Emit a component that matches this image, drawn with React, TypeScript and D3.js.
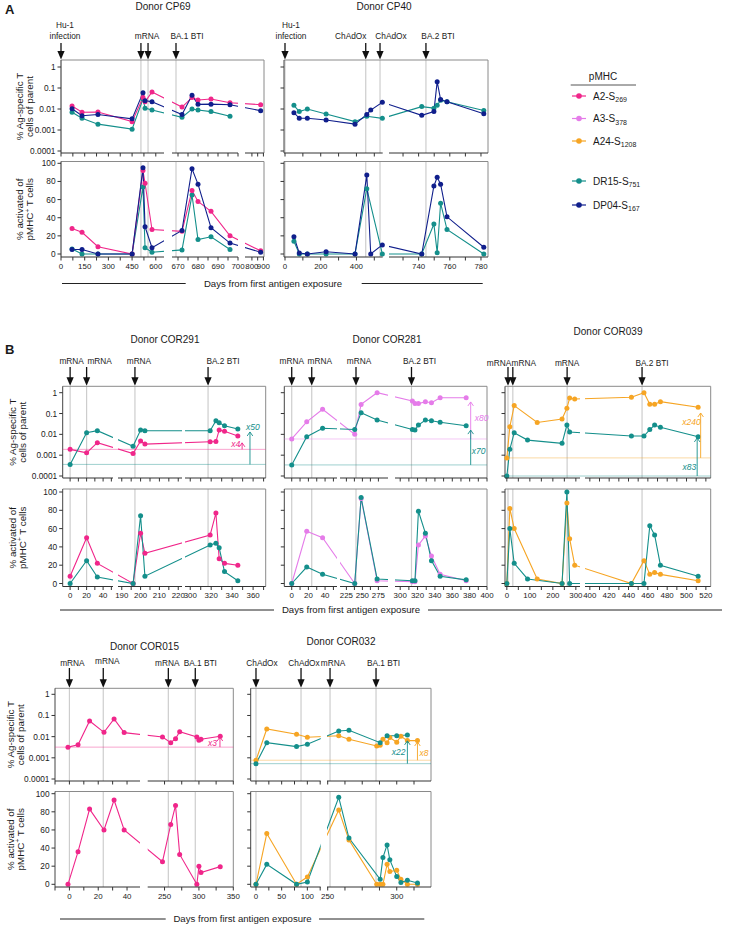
import React, { useRef, useEffect } from "react";
import * as d3 from "d3";

const FONT = "'Liberation Sans', Arial, Helvetica, sans-serif";

const COL = {
  A2: "#f0268a",
  A3: "#e57ce9",
  A24: "#f6a524",
  DR15: "#148f8b",
  DP04: "#101f8c",
};

// ---------- Donor CP69 ----------
const cp69Domains = [[0, 652], [667, 700], [740, 905]];
const cp69Ticks = [[0, 150, 300, 450, 600], [670, 680, 690, 700], [800, 900]];
const cp69Minor = [[75, 225, 375, 525], [675, 685, 695], [850]];
const cp69Events = [0, 506, 551, 669];
const cp69Days = [70, 133, 234, 450, 519, 532, 576, 672, 677, 680, 686.5, 696, 876];
const cp69FreqA2 = [0.0139, 0.007, 0.0072, 0.0025, 0.035, 0.022, 0.065, 0.0124, 0.035, 0.027, 0.03, 0.02, 0.016];
const cp69ActA2 = [28, 24, 8, 0, 92, 78, 27, 25, 70, 58, 47, 20, 3.5];
const cp69FreqDP04 = [0.0103, 0.0048, 0.0055, 0.0034, 0.06, 0.025, 0.022, 0.0055, 0.045, 0.0167, 0.017, 0.016, 0.0083];
const cp69ActDP04 = [5, 5, 0, 0, 95, 30, 7, 26, 94, 77, 29, 12, 2];
const cp69FreqDR15 = [0.007, 0.0036, 0.0019, 0.0011, 0.03, 0.011, 0.009, 0.004, 0.01, 0.009, 0.0075, 0.0045, NaN];
const cp69ActDR15 = [5.5, 0, 0, 0, 74, 7, 2, 4.5, 65, 16, 19, 5, NaN];

// ---------- Donor CP40 ----------
const cp40Domains = [[-5.6, 547], [721, 784.5]];
const cp40Ticks = [[0, 200, 400], [740, 760, 780]];
const cp40Minor = [[100, 300, 500], [730, 750, 770]];
const cp40Events = [0, 452, 532, 744.7];
const cp40Days = [50, 80, 125, 230, 392, 458, 480, 545, 742, 749.8, 751.9, 754.1, 758.2, 781.8];
const cp40FreqDR15 = [0.015, 0.0075, 0.01, 0.0058, 0.0025, 0.0045, NaN, 0.0036, 0.013, 0.011, 0.015, 0.026, 0.022, 0.0085];
const cp40ActDR15 = [14, 0, 0, 0, 0, 72, NaN, 0, 0, 33, 1.5, 56, 27, 0];
const cp40FreqDP04 = [0.0067, 0.0036, 0.0036, 0.003, 0.0019, 0.0055, 0.0089, 0.021, 0.005, 0.0075, 0.2, 0.028, 0.022, 0.006];
const cp40ActDP04 = [19, 1, 0, 2.5, 0, 87, 0, 10, 0, 75, 84.5, 77, 41, 7.4];

// ---------- Donor COR291 ----------
const cor291Domains = [[-9, 52], [188, 222], [295, 372]];
const cor291Ticks = [[0, 20, 40], [190, 200, 210, 220], [300, 320, 340, 360]];
const cor291Minor = [[10, 30, 50], [195, 205, 215], [310, 330, 350, 370]];
const cor291Events = [0, 20, 197, 317];
const cor291Days = [0, 20, 33, 196, 200, 202.3, 319, 324.5, 327.6, 332.7, 345.4];
const cor291FreqA2 = [0.0019, 0.0013, 0.004, 0.0012, 0.0048, 0.0034, 0.0044, 0.0045, 0.016, 0.014, 0.0083];
const cor291ActA2 = [8, 50, 22, 0, 55, 33, 53, 77, 27, 22, 20];
const cor291FreqDR15 = [0.00036, 0.012, 0.015, 0.0027, 0.016, 0.015, 0.015, 0.045, 0.036, 0.026, 0.018];
const cor291ActDR15 = [0, 25, 7, 0, 74, 8, 42, 44, 39, 13, 3];

// ---------- Donor COR281 ----------
const cor281Domains = [[-8.9, 54.3], [215, 290], [294, 400]];
const cor281Ticks = [[0, 20, 40], [225, 250, 275], [300, 320, 340, 360, 380, 400]];
const cor281Minor = [[10, 30, 50], [237.5, 262.5], [310, 330, 350, 370, 390]];
const cor281Events = [0, 24, 240, 313];
const cor281Days = [0, 18, 37, 238, 248, 273, 314, 317, 321, 329, 336, 346, 376];
const cor281FreqA3 = [0.006, 0.04, 0.16, 0.01, 0.275, 1.35, 0.4, 0.3, 0.3, 0.37, 0.33, 0.57, 0.57];
const cor281ActA3 = [0, 57, 50, 0, 93, 3, 2, 2, 42, 52, 30, 10, 3];
const cor281FreqDR15 = [0.00034, 0.0077, 0.0195, 0.017, 0.11, 0.049, 0.017, 0.016, 0.028, 0.049, 0.045, 0.038, 0.026];
const cor281ActDR15 = [0, 18, 10, 0, 94, 5, 3, 3, 79, 55, 25, 8, 4];

// ---------- Donor COR039 ----------
const cor039Domains = [[-8, 318], [395, 525]];
const cor039Ticks = [[0, 100, 200, 300], [400, 420, 440, 460, 480, 500, 520]];
const cor039Minor = [[50, 150, 250], [410, 430, 450, 470, 490, 510]];
const cor039Events = [5, 26, 262, 454];
const cor039Days = [0, 13, 32, 90, 132, 240, 261, 273, 295, 443, 456, 462, 467, 473, 512];
const cor039FreqA24 = [0.00074, 0.023, 0.24, NaN, 0.037, 0.055, 0.18, 0.55, 0.5, 0.6, 1.05, 0.28, 0.28, 0.37, 0.2];
const cor039ActA24 = [0, 82, 60, NaN, 5, 0, 88, 49, 20, 0, 25, 10, 12, 10, 3];
const cor039FreqDR15 = [0.0001, 0.0019, 0.012, 0.0053, NaN, 0.0037, 0.028, 0.013, NaN, 0.0083, 0.0083, 0.017, 0.028, 0.022, 0.0077];
const cor039ActDR15 = [0, 60, 22, 5, NaN, 0, 100, 0, NaN, 0, 0, 63, 53, 20, 8];

// ---------- Donor COR015 ----------
const cor015Domains = [[-10, 49], [225.5, 350]];
const cor015Ticks = [[0, 20, 40], [250, 300, 350]];
const cor015Minor = [[-10, 10, 30], [275, 325]];
const cor015Events = [0, 23.5, 255.5, 294.7];
const cor015Days = [-1, 6, 14, 24, 31, 38, 247, 259, 266, 272, 297, 300, 303, 331];
const cor015FreqA2 = [0.0032, 0.0041, 0.055, 0.016, 0.068, 0.0155, 0.0096, 0.0052, 0.008, 0.017, 0.0096, 0.0068, 0.0075, 0.0105];
const cor015ActA2 = [0, 36, 83, 60, 93, 60, 25, 66, 87, 33, 0, 20, 13, 19.5];

// ---------- Donor COR032 ----------
const cor032Domains = [[-10.3, 126], [249.5, 324.8]];
const cor032Ticks = [[0, 50, 100], [250, 300]];
const cor032Minor = [[25, 75, 125], [262.5, 275, 287.5, 312.5]];
const cor032Events = [0, 87.7, 251.7, 285];
const cor032Days = [0, 21, 79, 100, 258, 265.4, 285.5, 288, 290, 293, 295, 300, 303, 307.7, 315];
const cor032FreqA24 = [0.00077, 0.023, 0.013, 0.0093, 0.011, 0.0075, 0.0036, 0.0039, 0.0075, 0.0052, 0.009, 0.0055, 0.0104, 0.0065, 0.0065];
const cor032ActA24 = [0, 56, 0, 8, 82, 49, 0, 0, 0, 22, 14, 15.5, 5.5, 0, 0];
const cor032FreqDR15 = [0.00053, 0.0052, 0.0034, 0.0044, 0.0185, 0.02, NaN, 0.0052, NaN, 0.011, NaN, 0.011, NaN, 0.012, NaN];
const cor032ActDR15 = [0, 22, 0, 2.5, 96, 51, NaN, 5.5, 29.5, 43.5, 27, 8.5, 2, 4.5, 1.5];

const logTicks = [1, 0.1, 0.01, 0.001, 0.0001];
const logTickLabels = ["1", "0.1", "0.01", "0.001", "0.0001"];
const linTicks = [0, 20, 40, 60, 80, 100];

const legendNames = [
  ["A2-S", "269"],
  ["A3-S", "378"],
  ["A24-S", "1208"],
  ["DR15-S", "751"],
  ["DP04-S", "167"],
];
const legendColors = [COL.A2, COL.A3, COL.A24, COL.DR15, COL.DP04];

// layout of the three rows of donors
const ROWS = {
  A: { lab: 39, arrowTop: 43, frameTop: 60, log: [151, 67], topAxis: 153, botTop: 161.5, lin: [254, 163.3], botAxis: 257, tickLab: 268.5, yt: [23, 33] },
  B: { lab: 364, arrowTop: 367, frameTop: 386.3, log: [476, 392.7], topAxis: 478, botTop: 489, lin: [583.5, 492], botAxis: 586.5, tickLab: 597.5, yt: [16, 25.5] },
  C: { lab: 665.5, arrowTop: 668, frameTop: 688.3, log: [779, 694.3], topAxis: 781, botTop: 791.5, lin: [884.3, 793.7], botAxis: 887, tickLab: 898.5, yt: [14, 23.5] },
};

const mk = (color, days, freq, act) => ({ color, days, freq, act });

const DONORS = [
  {
    id: "cp69", row: "A", title: "Donor CP69", titleX: 163, titleY: 10, yLabels: true,
    domains: cp69Domains, ticks: cp69Ticks, minor: cp69Minor, events: cp69Events,
    segPx: [[61, 164], [172, 238], [245, 264]], right: 264,
    labels: [{ text: "Hu-1\ninfection", ev: 0, dx: 4 }, { text: "mRNA", ev: 2, dx: -1 }, { text: "BA.1 BTI", ev: 3, dx: 11 }],
    series: [mk(COL.DR15, cp69Days, cp69FreqDR15, cp69ActDR15), mk(COL.A2, cp69Days, cp69FreqA2, cp69ActA2), mk(COL.DP04, cp69Days, cp69FreqDP04, cp69ActDP04)],
    folds: [],
  },
  {
    id: "cp40", row: "A", title: "Donor CP40", titleX: 384, titleY: 10, yLabels: false,
    domains: cp40Domains, ticks: cp40Ticks, minor: cp40Minor, events: cp40Events,
    segPx: [[284, 382.7], [389, 488]], right: 488,
    labels: [{ text: "Hu-1\ninfection", ev: 0, dx: 6 }, { text: "ChAdOx", ev: 1, dx: -15 }, { text: "ChAdOx", ev: 2, dx: 11 }, { text: "BA.2 BTI", ev: 3, dx: 12 }],
    series: [mk(COL.DR15, cp40Days, cp40FreqDR15, cp40ActDR15), mk(COL.DP04, cp40Days, cp40FreqDP04, cp40ActDP04)],
    folds: [],
  },
  {
    id: "cor291", row: "B", title: "Donor COR291", titleX: 165, titleY: 342.5, yLabels: true,
    domains: cor291Domains, ticks: cor291Ticks, minor: cor291Minor, events: cor291Events,
    segPx: [[62.7, 113], [118, 182], [185, 265.7]], right: 265.7,
    labels: [{ text: "mRNA", ev: 0, dx: 1.5 }, { text: "mRNA", ev: 1, dx: 13 }, { text: "mRNA", ev: 2, dx: 4 }, { text: "BA.2 BTI", ev: 3, dx: 15 }],
    series: [mk(COL.A2, cor291Days, cor291FreqA2, cor291ActA2), mk(COL.DR15, cor291Days, cor291FreqDR15, cor291ActDR15)],
    folds: [
      { color: COL.A2, lod: 0.0019, day: 349.5, top: 0.0039, text: "x4", anchor: "end", dx: -2, at: 0.0025 },
      { color: COL.DR15, lod: 0.00036, day: 357, top: 0.013, text: "x50", anchor: "start", dx: -4, at: 0.017 },
    ],
  },
  {
    id: "cor281", row: "B", title: "Donor COR281", titleX: 387, titleY: 342.5, yLabels: false,
    domains: cor281Domains, ticks: cor281Ticks, minor: cor281Minor, events: cor281Events,
    segPx: [[284.3, 337], [340, 388], [395, 487]], right: 487,
    labels: [{ text: "mRNA", ev: 0, dx: 0 }, { text: "mRNA", ev: 1, dx: 8 }, { text: "mRNA", ev: 2, dx: 3 }, { text: "BA.2 BTI", ev: 3, dx: 8 }],
    series: [mk(COL.A3, cor281Days, cor281FreqA3, cor281ActA3), mk(COL.DR15, cor281Days, cor281FreqDR15, cor281ActDR15)],
    folds: [
      { color: COL.A3, lod: 0.006, day: 381.2, top: 0.36, text: "x80", anchor: "start", dx: 4, at: 0.044 },
      { color: COL.DR15, lod: 0.00034, day: 381.2, top: 0.016, text: "x70", anchor: "start", dx: 1, at: 0.00114 },
    ],
  },
  {
    id: "cor039", row: "B", title: "Donor COR039", titleX: 608, titleY: 335, yLabels: false, labDy: 2,
    domains: cor039Domains, ticks: cor039Ticks, minor: cor039Minor, events: cor039Events,
    segPx: [[505, 580], [585, 710.7]], right: 710.7,
    labels: [{ text: "mRNA", ev: 0, dx: -9 }, { text: "mRNA", ev: 1, dx: 11 }, { text: "mRNA", ev: 2, dx: 0 }, { text: "BA.2 BTI", ev: 3, dx: 10 }],
    series: [mk(COL.A24, cor039Days, cor039FreqA24, cor039ActA24), mk(COL.DR15, cor039Days, cor039FreqDR15, cor039ActDR15)],
    folds: [
      { color: COL.A24, lod: 0.00074, day: 514.6, top: 0.106, text: "x240", anchor: "end", dx: 0, at: 0.028 },
      { color: COL.DR15, lod: 0.0001, day: 511, top: 0.0067, text: "x83", anchor: "end", dx: -1, at: 0.000195 },
    ],
  },
  {
    id: "cor015", row: "C", title: "Donor COR015", titleX: 144.5, titleY: 649.5, yLabels: true,
    domains: cor015Domains, ticks: cor015Ticks, minor: cor015Minor, events: cor015Events,
    segPx: [[55, 140], [147.7, 233.3]], right: 233.3,
    labels: [{ text: "mRNA", ev: 0, dx: 3 }, { text: "mRNA", ev: 1, dx: 4, dy: -1.6 }, { text: "mRNA", ev: 2, dx: -1 }, { text: "BA.1 BTI", ev: 3, dx: 5 }],
    series: [mk(COL.A2, cor015Days, cor015FreqA2, cor015ActA2)],
    folds: [{ color: COL.A2, lod: 0.0032, day: 330.6, top: 0.0096, text: "x3", anchor: "end", dx: -3, at: 0.0037 }],
  },
  {
    id: "cor032", row: "C", title: "Donor COR032", titleX: 341, titleY: 644.5, yLabels: false,
    domains: cor032Domains, ticks: cor032Ticks, minor: cor032Minor, events: cor032Events,
    segPx: [[250.7, 320.7], [327, 431]], right: 431,
    labels: [{ text: "ChAdOx", ev: 0, dx: 6 }, { text: "ChAdOx", ev: 1, dx: 3 }, { text: "mRNA", ev: 2, dx: 3 }, { text: "BA.1 BTI", ev: 3, dx: 7.5 }],
    series: [mk(COL.A24, cor032Days, cor032FreqA24, cor032ActA24), mk(COL.DR15, cor032Days, cor032FreqDR15, cor032ActDR15)],
    folds: [
      { color: COL.DR15, lod: 0.00053, day: 307.7, top: 0.0063, text: "x22", anchor: "end", dx: -2, at: 0.0014 },
      { color: COL.A24, lod: 0.00077, day: 315, top: 0.0056, text: "x8", anchor: "start", dx: 2, at: 0.00123 },
    ],
  },
];

function text(g, x, y, s, size, anchor = "middle", extra = {}) {
  const t = g.append("text").attr("x", x).attr("y", y).attr("font-size", size)
    .attr("font-family", FONT).attr("text-anchor", anchor).attr("fill", "#1a1a1a").text(s);
  Object.entries(extra).forEach(([k, v]) => t.attr(k, v));
  return t;
}

function drawDonor(svg, d) {
  const R = ROWS[d.row];
  const g = svg.append("g");
  const xs = d.domains.map((dom, i) => d3.scaleLinear().domain(dom).range(d.segPx[i]));
  const segOf = (day) => {
    let best = 0, bestDist = Infinity;
    d.domains.forEach((dom, i) => {
      const dist = day < dom[0] ? dom[0] - day : day > dom[1] ? day - dom[1] : 0;
      if (dist < bestDist) { bestDist = dist; best = i; }
    });
    return best;
  };
  const xOf = (day) => xs[segOf(day)](day);
  const yLog = d3.scaleLog().domain([1e-4, 1]).range(R.log).clamp(true);
  const yLin = d3.scaleLinear().domain([0, 100]).range(R.lin);
  const left = d.segPx[0][0];

  // clip path: union of axis segments
  const clip = g.append("clipPath").attr("id", "clip-" + d.id);
  d.segPx.forEach((r) => {
    clip.append("rect").attr("x", r[0]).attr("y", R.frameTop - 2)
      .attr("width", r[1] - r[0]).attr("height", R.botAxis - R.frameTop + 4);
  });

  // title
  text(g, d.titleX, d.titleY, d.title, 10);

  // event lines and arrows
  d.events.forEach((ev) => {
    const x = xOf(ev);
    [[R.frameTop, R.topAxis], [R.botTop, R.botAxis]].forEach(([y0, y1]) => {
      g.append("line").attr("x1", x).attr("x2", x).attr("y1", y0).attr("y2", y1)
        .attr("stroke", "#cdcdcd").attr("stroke-width", 1.2);
    });
    g.append("line").attr("x1", x).attr("x2", x).attr("y1", R.arrowTop).attr("y2", R.frameTop - 7)
      .attr("stroke", "#111").attr("stroke-width", 1.3);
    g.append("path")
      .attr("d", `M${x - 3.6},${R.frameTop - 9} L${x + 3.6},${R.frameTop - 9} L${x},${R.frameTop - 0.5} Z`)
      .attr("fill", "#111");
  });

  d.labels.forEach((l) => {
    const x = xOf(d.events[l.ev]) + l.dx;
    const lines = l.text.split("\n");
    lines.forEach((s, i) => {
      text(g, x, R.lab + (d.labDy || 0) + (l.dy || 0) - (lines.length - 1 - i) * 11, s, 8.3);
    });
  });

  // frames
  const frame = (y0, y1) => {
    g.append("path").attr("d", `M${left},${y0} L${d.right},${y0} L${d.right},${y1}`)
      .attr("fill", "none").attr("stroke", "#8a8a8a").attr("stroke-width", 1);
    g.append("line").attr("x1", left).attr("x2", left).attr("y1", y0).attr("y2", y1)
      .attr("stroke", "#444").attr("stroke-width", 1);
  };
  frame(R.frameTop, R.topAxis);
  frame(R.botTop, R.botAxis);

  // LOD lines
  d.folds.forEach((f) => {
    const y = yLog(f.lod);
    g.append("line").attr("x1", left).attr("x2", d.right).attr("y1", y).attr("y2", y)
      .attr("stroke", f.color).attr("stroke-width", 0.9).attr("opacity", 0.45);
  });

  // series lines
  const lines = g.append("g").attr("clip-path", `url(#clip-${d.id})`);
  d.series.forEach((s) => {
    const top = s.days.map((day, i) => [day, s.freq[i]]).filter((p) => !isNaN(p[1]));
    const bot = s.days.map((day, i) => [day, s.act[i]]).filter((p) => !isNaN(p[1]));
    const lt = d3.line().x((p) => xOf(p[0])).y((p) => yLog(p[1]));
    const lb = d3.line().x((p) => xOf(p[0])).y((p) => yLin(p[1]));
    lines.append("path").attr("d", lt(top)).attr("fill", "none").attr("stroke", s.color).attr("stroke-width", 1.1);
    lines.append("path").attr("d", lb(bot)).attr("fill", "none").attr("stroke", s.color).attr("stroke-width", 1.1);
    g.selectAll(null).data(top).enter().append("circle")
      .attr("cx", (p) => xOf(p[0])).attr("cy", (p) => yLog(p[1])).attr("r", 2.5).attr("fill", s.color);
    g.selectAll(null).data(bot).enter().append("circle")
      .attr("cx", (p) => xOf(p[0])).attr("cy", (p) => yLin(p[1])).attr("r", 2.5).attr("fill", s.color);
  });

  // fold-change arrows
  d.folds.forEach((f) => {
    const x = xOf(f.day);
    const y0 = yLog(f.lod), y1 = yLog(f.top);
    g.append("line").attr("x1", x).attr("x2", x).attr("y1", y0).attr("y2", y1)
      .attr("stroke", f.color).attr("stroke-width", 0.9);
    g.append("path").attr("d", `M${x - 2.8},${y1 + 4} L${x},${y1} L${x + 2.8},${y1 + 4}`)
      .attr("fill", "none").attr("stroke", f.color).attr("stroke-width", 0.9);
    text(g, x + f.dx, yLog(f.at), f.text, 8.5, f.anchor, { fill: f.color, "font-style": "italic" });
  });

  // x axes per segment
  d.segPx.forEach((r, i) => {
    [R.topAxis, R.botAxis].forEach((ya, k) => {
      g.append("line").attr("x1", r[0]).attr("x2", r[1]).attr("y1", ya).attr("y2", ya)
        .attr("stroke", "#333").attr("stroke-width", 1);
      const all = d.ticks[i].concat(d.minor[i]).filter((t) => t >= d.domains[i][0] - 0.01 && t <= d.domains[i][1] + 0.6);
      all.forEach((t) => {
        const x = Math.min(xs[i](t), r[1]);
        g.append("line").attr("x1", x).attr("x2", x).attr("y1", ya).attr("y2", ya + 3.5)
          .attr("stroke", "#333").attr("stroke-width", 1);
      });
      if (k === 1) {
        d.ticks[i].forEach((t) => text(g, xs[i](t), R.tickLab, String(t), 7.9));
      }
    });
  });

  // y axes
  logTicks.forEach((t, i) => {
    const y = yLog(t);
    g.append("line").attr("x1", left - 3.5).attr("x2", left).attr("y1", y).attr("y2", y).attr("stroke", "#333");
    if (d.yLabels) text(g, left - 5.5, y + 3, logTickLabels[i], 8.3, "end");
  });
  linTicks.forEach((t) => {
    const y = yLin(t);
    g.append("line").attr("x1", left - 3.5).attr("x2", left).attr("y1", y).attr("y2", y).attr("stroke", "#333");
    if (d.yLabels) text(g, left - 5.5, y + 3, String(t), 8.3, "end");
  });

  if (d.yLabels) {
    const cTop = (R.frameTop + R.topAxis) / 2;
    const cBot = (R.botTop + R.botAxis) / 2;
    text(g, 0, 0, "% Ag-specific T", 9.8, "middle", { transform: `translate(${R.yt[0]},${cTop}) rotate(-90)` });
    text(g, 0, 0, "cells of parent", 9.8, "middle", { transform: `translate(${R.yt[1]},${cTop}) rotate(-90)` });
    text(g, 0, 0, "% activated of", 9.8, "middle", { transform: `translate(${R.yt[0]},${cBot}) rotate(-90)` });
    const t2 = g.append("text").attr("font-size", 9.8).attr("font-family", FONT).attr("text-anchor", "middle")
      .attr("fill", "#1a1a1a").attr("transform", `translate(${R.yt[1]},${cBot}) rotate(-90)`);
    t2.append("tspan").text("pMHC");
    t2.append("tspan").attr("dy", -3.5).attr("font-size", 6.5).text("+");
    t2.append("tspan").attr("dy", 3.5).text(" T cells");
  }
}

function drawAxisTitle(svg, cx, y, l0, l1, r0, r1) {
  text(svg, cx, y + 3.3, "Days from first antigen exposure", 9.6);
  svg.append("line").attr("x1", l0).attr("x2", l1).attr("y1", y).attr("y2", y).attr("stroke", "#222").attr("stroke-width", 1);
  svg.append("line").attr("x1", r0).attr("x2", r1).attr("y1", y).attr("y2", y).attr("stroke", "#222").attr("stroke-width", 1);
}

const App = () => {
  const svgRef = useRef(null);

  useEffect(() => {
    const svg = d3.select(svgRef.current);
    svg.selectAll("*").remove();
    svg.append("rect").attr("width", 732).attr("height", 925).attr("fill", "#fff");

    text(svg, 5, 14, "A", 13, "start", { "font-weight": "bold" });
    text(svg, 5, 354, "B", 13, "start", { "font-weight": "bold" });

    DONORS.forEach((d) => drawDonor(svg, d));

    drawAxisTitle(svg, 273, 283.5, 62, 185.7, 361.7, 482.7);
    drawAxisTitle(svg, 351, 610, 60, 274, 428, 722);
    drawAxisTitle(svg, 242.5, 919, 60, 165.7, 319, 424.3);

    // legend
    const lg = svg.append("g");
    text(lg, 603, 79.5, "pMHC", 10);
    lg.append("line").attr("x1", 570.7).attr("x2", 636).attr("y1", 85).attr("y2", 85).attr("stroke", "#555").attr("stroke-width", 1);
    const ly = [96, 118.5, 141, 181, 205];
    legendNames.forEach(([nm, sub], i) => {
      lg.append("line").attr("x1", 572).attr("x2", 586).attr("y1", ly[i]).attr("y2", ly[i])
        .attr("stroke", legendColors[i]).attr("stroke-width", 1.2);
      lg.append("circle").attr("cx", 579).attr("cy", ly[i]).attr("r", 2.8).attr("fill", legendColors[i]);
      const t = lg.append("text").attr("x", 593).attr("y", ly[i] + 3.6).attr("font-size", 10)
        .attr("font-family", FONT).attr("fill", "#1a1a1a");
      t.append("tspan").text(nm);
      t.append("tspan").attr("dy", 2.5).attr("font-size", 7).text(sub);
    });
  }, []);

  return (
    <svg
      ref={svgRef}
      width={732}
      height={925}
      viewBox="0 0 732 925"
      style={{ position: "absolute", left: 0, top: 0 }}
    />
  );
};

export default App;
